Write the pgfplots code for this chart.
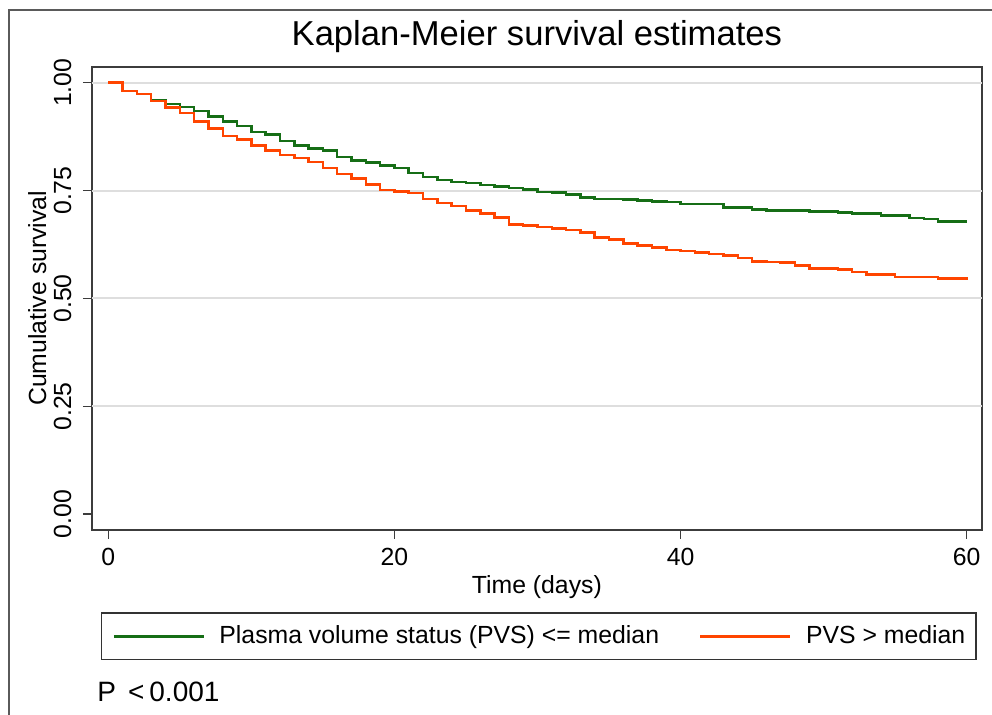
\documentclass[border=0pt]{standalone}
\usepackage{pgfplots}
\usepackage{pgfplotstable}
\pgfplotsset{compat=1.18}
\usepackage{fontspec}
\setmainfont{Liberation Sans}
\definecolor{kmgreen}{RGB}{22,110,22}
\definecolor{kmorange}{RGB}{255,69,0}
\definecolor{framegray}{RGB}{90,90,90}
\definecolor{gridgray}{RGB}{222,222,222}
\definecolor{axisgray}{RGB}{60,60,60}

\pgfplotstableread{
t s
0 1.000
1 0.981
2 0.974
3 0.959
4 0.950
5 0.944
6 0.934
7 0.922
8 0.910
9 0.900
10 0.886
11 0.880
12 0.865
13 0.854
14 0.847
15 0.843
16 0.828
17 0.820
18 0.815
19 0.808
20 0.802
21 0.791
22 0.782
23 0.774
24 0.770
25 0.768
26 0.763
27 0.759
28 0.756
29 0.753
30 0.747
31 0.745
32 0.741
33 0.734
34 0.731
35 0.730
36 0.729
37 0.727
38 0.725
39 0.723
40 0.719
43 0.711
45 0.706
46 0.704
49 0.701
51 0.699
52 0.697
54 0.692
56 0.687
57 0.684
58 0.678
60 0.678
}\greendata

\pgfplotstableread{
t s
0 1.000
1 0.981
2 0.974
3 0.957
4 0.943
5 0.930
6 0.910
7 0.894
8 0.877
9 0.868
10 0.854
11 0.843
12 0.832
13 0.826
14 0.816
15 0.802
16 0.788
17 0.778
18 0.764
19 0.751
20 0.748
21 0.744
22 0.731
23 0.721
24 0.714
25 0.704
26 0.697
27 0.688
28 0.671
29 0.669
30 0.666
31 0.662
32 0.659
33 0.653
34 0.641
35 0.637
36 0.627
37 0.623
38 0.618
39 0.612
40 0.610
41 0.606
42 0.603
43 0.600
44 0.594
45 0.586
46 0.584
47 0.583
48 0.576
49 0.570
51 0.567
52 0.561
53 0.556
54 0.555
55 0.550
58 0.546
60 0.543
}\orangedata

\begin{document}
\begin{tikzpicture}
\path[use as bounding box] (0,0) rectangle (496bp,357.5bp);
\draw[framegray, line width=1bp] (4.5bp,0) -- (4.5bp,352.5bp) -- (496bp,352.5bp);
\begin{axis}[
  at={(46bp,92.5bp)}, anchor=south west,
  scale only axis, width=444.85bp, height=231.65bp,
  xmin=-1.14, xmax=61.05, ymin=-0.0364, ymax=1.037,
  xtick={0,20,40,60}, ytick={0,0.25,0.5,0.75,1},
  xtick pos=bottom, ytick pos=left,
  tick align=outside, major tick length=4.5bp,
  tick style={axisgray, line width=0.8bp},
  axis line style={axisgray, line width=1bp},
  /pgf/number format/assume math mode=true,
  ticklabel style={font=\fontsize{12.4bp}{14bp}\selectfont},
  yticklabel style={/pgf/number format/fixed, /pgf/number format/fixed zerofill, /pgf/number format/precision=2, xshift=-6bp, rotate=90, anchor=base, inner sep=0pt},
  xticklabel style={anchor=base, yshift=-13bp, inner sep=0pt},
  extra y ticks={0.25,0.5,0.75,1},
  extra y tick labels={},
  extra y tick style={grid=major, major tick length=0pt},
  major grid style={gridgray, line width=1bp},
  title={Kaplan-Meier survival estimates},
  title style={at={(axis description cs:0.5,1)}, anchor=base, yshift=4.85bp, font=\fontsize{17.3bp}{20bp}\selectfont, inner sep=0pt},
  xlabel={Time (days)},
  ylabel={Cumulative survival},
  every axis x label/.style={at={(axis description cs:0.5,0)}, anchor=base, yshift=-32bp, inner sep=0pt, font=\fontsize{12.4bp}{14bp}\selectfont},
  every axis y label/.style={at={(axis description cs:0,0.5)}, xshift=-23bp, rotate=90, anchor=base, inner sep=0pt, font=\fontsize{12.4bp}{14bp}\selectfont},
  legend columns=2,
  legend image code/.code={\draw[#1] (0bp,0bp) -- (45bp,0bp);},
  legend style={at={(axis description cs:0.0098,-0.1776)}, anchor=north west,
    draw=black!80, line width=0.8bp, inner xsep=5.5bp, inner ysep=6.4bp,
    font=\fontsize{12.4bp}{14bp}\selectfont, nodes={inner sep=0pt},
    /tikz/every odd column/.append style={column sep=7.2bp},
    /tikz/every even column/.append style={column sep=20bp}},
]
\addplot[const plot, kmgreen, line width=1.25bp] table[x=t, y=s] {\greendata};
\addlegendentry{Plasma volume status (PVS) <= median}
\addplot[const plot, kmorange, line width=1.25bp] table[x=t, y=s] {\orangedata};
\addlegendentry{PVS > median}
\end{axis}
\node[anchor=base west, inner sep=0pt, font=\fontsize{14bp}{16bp}\selectfont] at (48.5bp,7bp) {P\hspace{6bp}<\hspace{2.5bp}0.001};
\end{tikzpicture}
\end{document}
